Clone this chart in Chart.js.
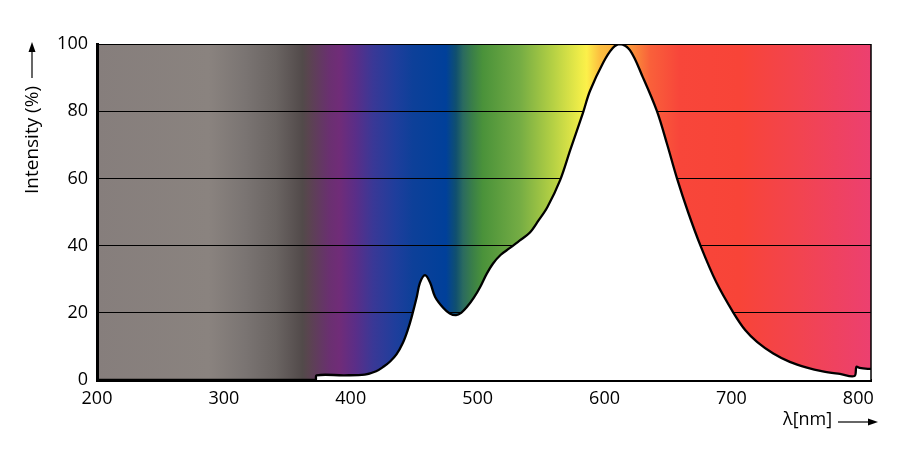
<!DOCTYPE html>
<html>
<head>
<meta charset="utf-8">
<script src="https://cdn.jsdelivr.net/npm/chart.js@4/dist/chart.umd.min.js"></script>
<style>
    body { margin: 0; background: #fff; }
    #wrap { width: 909px; height: 458px; }
</style>
</head>
<body>
<div id="wrap"><canvas id="spectrumChart" width="909" height="458"></canvas></div>
<script>
// 光谱数据
const wavelengths = [200, 372, 373, 395, 411, 420, 426, 431, 436, 441, 445, 448, 452, 454.5, 458.5, 462.5, 466.5, 473, 478, 483, 487, 491.5, 497, 502, 507, 512, 518, 525.5, 533, 541, 548, 555, 565, 573, 583, 588.5, 599, 606.5, 612, 620, 630.3, 641.3, 649.2, 657.1, 665.8, 675.6, 688.2, 701.6, 711, 720.4, 733, 746, 759.5, 772, 785.5, 797, 798.5, 801, 808, 810];
const intensity   = [0, 0, 1.4, 1.4, 1.6, 2.6, 4, 5.5, 7.6, 11, 15, 18.8, 24.7, 28.9, 31.2, 29, 24.7, 21.4, 19.8, 19.3, 20, 21.7, 24.5, 27.7, 31.5, 34.6, 37.2, 39.3, 41.5, 43.8, 47.5, 51.5, 59.5, 68.5, 79.5, 86, 94.5, 98.8, 100, 98.2, 90, 80, 70.3, 60, 50, 40, 29, 20, 14.8, 11.3, 7.9, 5.4, 3.7, 2.6, 1.8, 1.2, 3.9, 3.6, 3.3, 3.3];
const xTicks = [200, 300, 400, 500, 600, 700, 800];
const yTicks = [0, 20, 40, 60, 80, 100];

// 背景色谱 (波长 -> 颜色)
const spectrumStops = [
    [200, '#867e7c'], [288, '#8a837f'], [317, '#7a7472'], [341, '#6a6462'],
    [362, '#524a4a'], [367, '#5a4450'], [383, '#6a3070'], [391, '#702c78'],
    [404, '#5a2e88'], [417.5, '#3a3896'], [435.6, '#1e3e9c'], [449, '#0d4099'],
    [475, '#00409a'], [483, '#10506f'], [488.4, '#2a6a60'], [496, '#3a7f48'],
    [504, '#4a923a'], [533, '#74ac44'], [559, '#b4d044'], [580.6, '#eeec48'],
    [586, '#fcf04a'], [596, '#fcc040'], [616, '#fba43a'], [636, '#f9603a'],
    [659, '#f8463a'], [706.7, '#f84438'], [754, '#f24450'], [810, '#ec4070']
];

Chart.defaults.font.family = "'Open Sans', sans-serif";
Chart.defaults.font.size = 18;
Chart.defaults.color = '#000';

const spectrumPlugin = {
    id: 'spectrum',
    beforeDraw(chart) {
        const {ctx, chartArea: a, scales: {x}} = chart;
        const x0 = x.getPixelForValue(x.min), x1 = x.getPixelForValue(x.max);
        const g = ctx.createLinearGradient(x0, 0, x1, 0);
        spectrumStops.forEach(function(s) {
            g.addColorStop((s[0] - x.min) / (x.max - x.min), s[1]);
        });
        ctx.save();
        ctx.fillStyle = g;
        ctx.fillRect(a.left, a.top, a.right - a.left, a.bottom - a.top);
        ctx.restore();
    },
    afterDraw(chart) {
        const {ctx, chartArea: a} = chart;
        ctx.save();
        // 右边框
        ctx.strokeStyle = '#000';
        ctx.lineWidth = 1.5;
        ctx.beginPath();
        ctx.moveTo(a.right, a.top);
        ctx.lineTo(a.right, a.bottom);
        ctx.stroke();

        ctx.fillStyle = '#000';
        // Y 轴标题
        ctx.font = "19px 'Open Sans', sans-serif";
        ctx.save();
        ctx.translate(33, 140);
        ctx.rotate(-Math.PI / 2);
        ctx.textAlign = 'center';
        ctx.textBaseline = 'middle';
        ctx.fillText('Intensity (%)', 0, 0);
        ctx.restore();
        ctx.lineWidth = 1.2;
        ctx.beginPath();
        ctx.moveTo(32, 78);
        ctx.lineTo(32, 50);
        ctx.stroke();
        ctx.beginPath();
        ctx.moveTo(32, 42);
        ctx.lineTo(28.5, 52);
        ctx.lineTo(35.5, 52);
        ctx.closePath();
        ctx.fill();

        // X 轴标题
        ctx.font = "18px 'Open Sans', sans-serif";
        ctx.textAlign = 'left';
        ctx.textBaseline = 'middle';
        ctx.fillText('λ[nm]', 783, 420);
        ctx.beginPath();
        ctx.moveTo(838, 422);
        ctx.lineTo(869, 422);
        ctx.stroke();
        ctx.beginPath();
        ctx.moveTo(878, 422);
        ctx.lineTo(868, 418.5);
        ctx.lineTo(868, 425.5);
        ctx.closePath();
        ctx.fill();
        ctx.restore();
    }
};

const spectrumChart = document.getElementById('spectrumChart');
new Chart(spectrumChart, {
    type: 'line',
    data: {
        datasets: [{
            data: wavelengths.map(function(w, i) { return {x: w, y: intensity[i]}; }),
            borderColor: '#000',
            borderWidth: 2.3,
            backgroundColor: '#fff',
            fill: 'origin',
            pointRadius: 0,
            tension: 0.35
        }]
    },
    options: {
        responsive: false,
        animation: false,
        events: [],
        layout: {
            padding: { top: 44, right: 38, left: 0, bottom: 0 }
        },
        plugins: {
            legend: { display: false },
            tooltip: { enabled: false }
        },
        scales: {
            x: {
                type: 'linear',
                min: 200,
                max: 810,
                afterBuildTicks: function(scale) {
                    scale.ticks = xTicks.map(function(v) { return {value: v}; });
                },
                afterFit: function(scale) { scale.height = 78; },
                grid: { display: false, drawTicks: false },
                border: { display: true, color: '#000', width: 3 },
                ticks: { padding: 8, maxRotation: 0 }
            },
            y: {
                min: 0,
                max: 100,
                afterBuildTicks: function(scale) {
                    scale.ticks = yTicks.map(function(v) { return {value: v}; });
                },
                afterFit: function(scale) { scale.width = 97; },
                grid: { color: '#000', lineWidth: 1, drawTicks: false },
                border: { display: true, color: '#000', width: 3 },
                ticks: { padding: 9 }
            }
        }
    },
    plugins: [spectrumPlugin]
});
</script>
</body>
</html>
